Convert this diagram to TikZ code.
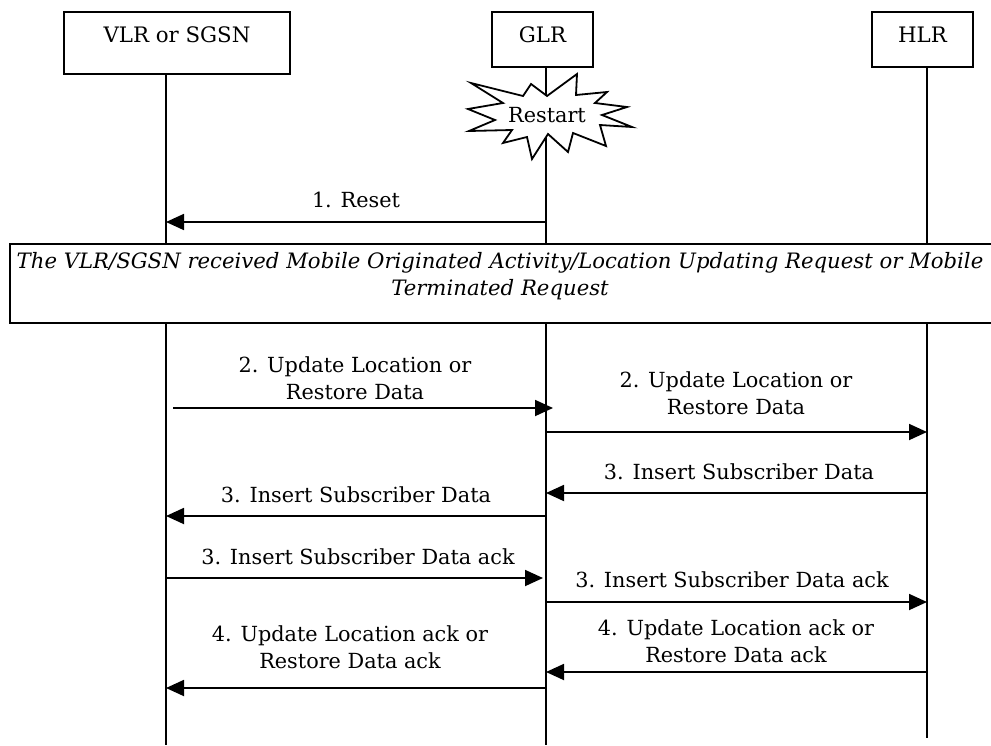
\documentclass[tikz,border=0pt]{standalone}
\usepackage{fontspec}
\setmainfont{DejaVu Serif}
\usetikzlibrary{arrows.meta}
\begin{document}
\begin{tikzpicture}[x=1pt,y=-1pt,
  lw/.style={line width=1.8pt},
  actorbox/.style={draw,lw,fill=white,inner sep=0pt},
  actortext/.style={font=\fontsize{21.3}{24}\selectfont,inner sep=0pt},
  life/.style={lw},
  msg/.style={lw,-{Triangle[length=18pt,width=16pt]}},
  lbl/.style={font=\fontsize{20.8}{27}\selectfont,align=center,inner sep=0pt},
  note/.style={font=\fontsize{21.2}{27}\selectfont\itshape,align=center,inner sep=0pt}]
\useasboundingbox (0,0) rectangle (991,745);
% actor boxes
\node[actorbox,minimum width=226pt,minimum height=62pt] (vlr) at (177,43) {};
\node[actorbox,minimum width=101pt,minimum height=55pt] (glr) at (542.5,39.5) {};
\node[actorbox,minimum width=101pt,minimum height=55pt] (hlr) at (922.5,39.5) {};
\node[actortext] (vlrt) at (177,35) {VLR or SGSN};
\node[actortext] (glrt) at (542.5,35) {GLR};
\node[actortext] (hlrt) at (922.5,35) {HLR};
% lifeline ends
\coordinate (vtop) at (166,74);
\coordinate (vbot) at (166,745);
\coordinate (gtop) at (546,67);
\coordinate (gbot) at (546,745);
\coordinate (htop) at (927,67);
\coordinate (hbot) at (927,738);
\draw[life] (vtop) -- (vbot);
\draw[life] (gtop) -- (gbot);
\draw[life] (htop) -- (hbot);
% restart star
\draw[lw,fill=white,line join=miter] (471,83) -- (523,96) -- (531,84) -- (547,96) -- (577,74) -- (576,95) -- (607,92) -- (595,103) -- (627,107) -- (602,115) -- (632,127) -- (600,125) -- (606,146) -- (573,133) -- (568,152) -- (548,134) -- (532,159) -- (527,137) -- (503,143) -- (512,130) -- (469,131) -- (495,120) -- (468,109) -- (503,103) -- cycle;
\node[lbl] (restart) at (547,115) {Restart};
% note box
\node[draw,lw,fill=white,minimum width=986pt,minimum height=79pt,inner sep=0pt] (notebox) at (503,283.5) {};
\node[note] (notetext) at (500,276.5) {The VLR/SGSN received Mobile Originated Activity/Location Updating Request or Mobile\\Terminated Request};
% message end points
\coordinate (g1) at (546,222); \coordinate (v1) at (166,222);
\coordinate (v2) at (173,408); \coordinate (g2) at (553,408);
\coordinate (g3) at (546,432); \coordinate (h3) at (927,432);
\coordinate (h4) at (927,493); \coordinate (g4) at (546,493);
\coordinate (g5) at (546,516); \coordinate (v5) at (166,516);
\coordinate (v6) at (166,578); \coordinate (g6) at (543,578);
\coordinate (g7) at (546,602); \coordinate (h7) at (927,602);
\coordinate (h8) at (927,672); \coordinate (g8) at (546,672);
\coordinate (g9) at (546,688); \coordinate (v9) at (166,688);
\draw[msg] (g1) -- (v1);
\draw[msg] (v2) -- (g2);
\draw[msg] (g3) -- (h3);
\draw[msg] (h4) -- (g4);
\draw[msg] (g5) -- (v5);
\draw[msg] (v6) -- (g6);
\draw[msg] (g7) -- (h7);
\draw[msg] (h8) -- (g8);
\draw[msg] (g9) -- (v9);
% labels
\node[lbl] (l1) at (356,200) {1. Reset};
\node[lbl] (l2) at (355,378.5) {2. Update Location or\\Restore Data};
\node[lbl] (l3) at (736,393.5) {2. Update Location or\\Restore Data};
\node[lbl] (l4) at (739,472) {3. Insert Subscriber Data};
\node[lbl] (l5) at (356,495) {3. Insert Subscriber Data};
\node[lbl] (l6) at (358,557) {3. Insert Subscriber Data ack};
\node[lbl] (l7) at (732,580) {3. Insert Subscriber Data ack};
\node[lbl] (l8) at (736,641.5) {4. Update Location ack or\\Restore Data ack};
\node[lbl] (l9) at (350,647.5) {4. Update Location ack or\\Restore Data ack};
\end{tikzpicture}
\end{document}
